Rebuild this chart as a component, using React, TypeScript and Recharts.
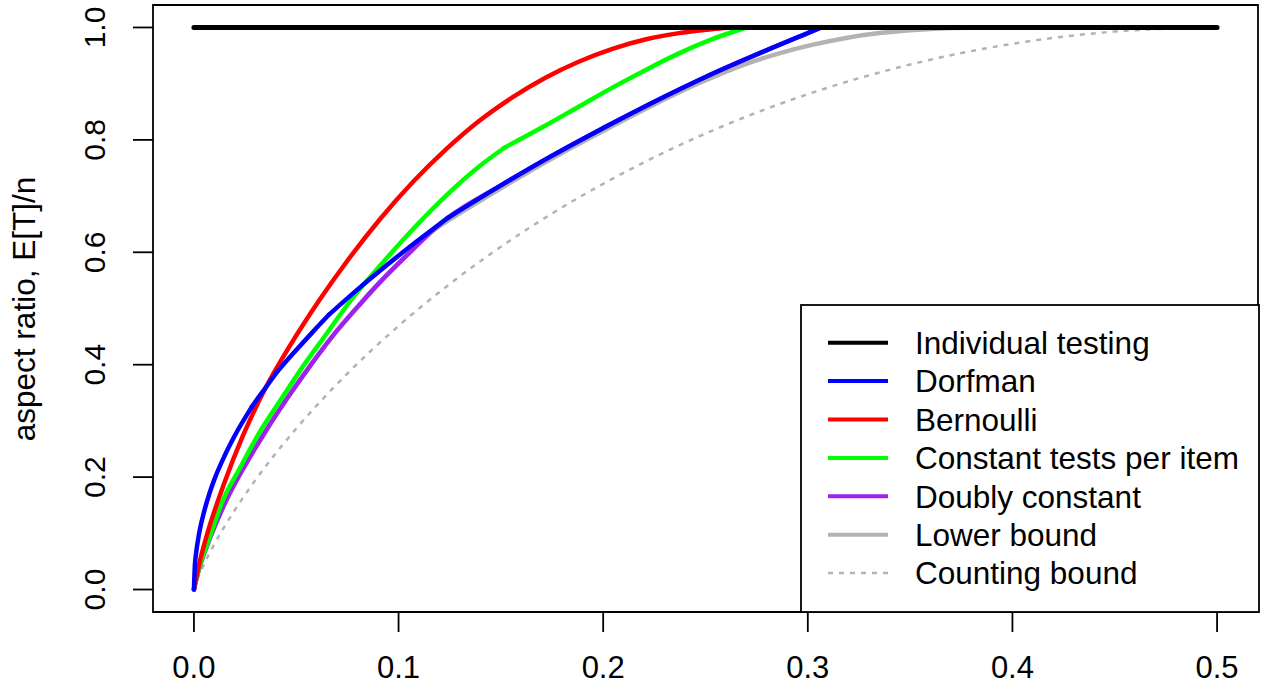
import React from 'react';
import { LineChart, Line, XAxis, YAxis, ReferenceArea, Legend } from 'recharts';

const FONT = '"Liberation Sans", Arial, Helvetica, sans-serif';

const xTicks = [0, 0.1, 0.2, 0.3, 0.4, 0.5];
const yTicks = [0, 0.2, 0.4, 0.6, 0.8, 1.0];
const yTitle = 'aspect ratio, E[T]/n';

// [p, E[T]/n] pairs
const individual = [[0, 1], [0.5, 1]];
const dorfman = [
  [0, 0], [0.0005, 0.045], [0.001, 0.063], [0.0025, 0.099], [0.005, 0.139], [0.0075, 0.17],
  [0.01, 0.196], [0.015, 0.238], [0.02, 0.274], [0.0283, 0.325], [0.03, 0.334], [0.035, 0.359],
  [0.041, 0.389], [0.05, 0.426], [0.058, 0.458], [0.066, 0.489], [0.08, 0.534], [0.1, 0.594],
  [0.112, 0.628], [0.124, 0.661], [0.15, 0.719], [0.175, 0.772], [0.2, 0.821], [0.225, 0.868],
  [0.25, 0.912], [0.275, 0.952], [0.3, 0.99], [0.3066, 1.0],
];
const dorfmanKinks = [0.0283, 0.041, 0.066, 0.124];
const bernoulli = [
  [0, 0], [0.003, 0.052], [0.007, 0.105], [0.0143, 0.184], [0.0241, 0.275], [0.0355, 0.362],
  [0.0468, 0.433], [0.0615, 0.516], [0.075, 0.585], [0.0907, 0.658], [0.107, 0.725],
  [0.1233, 0.7835], [0.1395, 0.834], [0.1558, 0.876], [0.172, 0.911], [0.188, 0.939],
  [0.2045, 0.962], [0.221, 0.979], [0.237, 0.99], [0.253, 0.997], [0.262, 1.0],
];
const constantTests = [
  [0, 0], [0.001, 0.017], [0.0025, 0.038], [0.008, 0.096], [0.0143, 0.16], [0.022, 0.213],
  [0.032, 0.279], [0.0425, 0.338], [0.0533, 0.397], [0.065, 0.456], [0.0769, 0.516],
  [0.0907, 0.575], [0.107, 0.641], [0.123, 0.7], [0.1395, 0.753], [0.1517, 0.786],
  [0.172, 0.826], [0.188, 0.859], [0.2045, 0.893], [0.221, 0.925], [0.237, 0.954],
  [0.253, 0.979], [0.27, 1.0],
];
const constantTestsKinks = [0.1517];
const doublyConstant = [
  [0, 0], [0.001, 0.0165], [0.0029, 0.0415], [0.008, 0.093], [0.016, 0.16], [0.025, 0.221],
  [0.0346, 0.279], [0.045, 0.337], [0.0566, 0.397], [0.07, 0.461], [0.0817, 0.51],
  [0.0907, 0.546], [0.105, 0.598], [0.1185, 0.645], [0.124, 0.661], [0.15, 0.719],
  [0.2, 0.821], [0.25, 0.912], [0.3066, 1.0],
];
const lowerBound = [
  [0, 0], [0.001, 0.0165], [0.0029, 0.0415], [0.008, 0.093], [0.016, 0.16], [0.025, 0.221],
  [0.0346, 0.279], [0.045, 0.337], [0.0566, 0.397], [0.07, 0.461], [0.0817, 0.51],
  [0.0907, 0.546], [0.105, 0.598], [0.1185, 0.643], [0.124, 0.656], [0.15, 0.714],
  [0.175, 0.767], [0.2, 0.816], [0.225, 0.863], [0.245, 0.898], [0.2696, 0.935],
  [0.286, 0.954], [0.302, 0.969], [0.318, 0.981], [0.335, 0.99], [0.354, 0.996],
  [0.37, 0.999], [0.382, 1.0],
];
const countingBound = [
  [0, 0], [0.001, 0.0114], [0.0025, 0.0252], [0.005, 0.0454], [0.01, 0.0808], [0.02, 0.1414],
  [0.03, 0.1944], [0.04, 0.2423], [0.05, 0.2864], [0.075, 0.3843], [0.1, 0.469],
  [0.125, 0.5436], [0.15, 0.6098], [0.175, 0.669], [0.2, 0.7219], [0.25, 0.8113],
  [0.3, 0.8813], [0.35, 0.9341], [0.4, 0.971], [0.45, 0.9928], [0.5, 1.0],
];

const legendNames = [
  'Individual testing', 'Dorfman', 'Bernoulli', 'Constant tests per item',
  'Doubly constant', 'Lower bound', 'Counting bound',
];
const legendColors = ['#000000', '#0000ff', '#ff0000', '#00ff00', '#a020f0', '#b3b3b3', '#b3b3b3'];

const toRows = (arr: number[][]) => arr.map(([p, v]) => ({ p, v }));

// split a curve at its kinks so each smooth piece is interpolated separately
const splitAt = (arr: number[][], kinks: number[]) => {
  const parts: number[][][] = [];
  let cur: number[][] = [];
  arr.forEach((pt) => {
    cur.push(pt);
    if (kinks.includes(pt[0])) {
      parts.push(cur);
      cur = [pt];
    }
  });
  if (cur.length > 1) parts.push(cur);
  return parts;
};

const XTick = (props: any) => {
  const { x, payload } = props;
  return (
    <text x={x} y={678} textAnchor="middle" fontSize={31} fontFamily={FONT} fill="#000">
      {Number(payload.value).toFixed(1)}
    </text>
  );
};

const YTick = (props: any) => {
  const { y, payload } = props;
  const bx = 105;
  return (
    <text x={bx} y={y} transform={`rotate(-90, ${bx}, ${y})`} textAnchor="middle" fontSize={30} fontFamily={FONT} fill="#000">
      {Number(payload.value).toFixed(1)}
    </text>
  );
};

const YTitle = () => (
  <text x={35} y={309} transform="rotate(-90, 35, 309)" textAnchor="middle" fontSize={31.5} fontFamily={FONT} fill="#000">
    {yTitle}
  </text>
);

const LegendBox = () => (
  <svg width={462} height={310} style={{ display: 'block' }}>
    <rect x={1} y={1} width={458} height={307} fill="#fff" stroke="#000" strokeWidth={1.8} />
    {legendNames.map((n, i) => {
      const cy = 38.7 + i * 38.4;
      return (
        <g key={n}>
          <line x1={28} x2={88} y1={cy} y2={cy} stroke={legendColors[i]} strokeWidth={i === 6 ? 2.5 : 4}
            strokeDasharray={i === 6 ? '5 6' : undefined} />
          <text x={115} y={cy + 11.3} fontSize={31.5} fontFamily={FONT} fill="#000">{n}</text>
        </g>
      );
    })}
  </svg>
);

const lineProps = {
  type: 'monotone' as const,
  dataKey: 'v',
  dot: false,
  activeDot: false,
  isAnimationActive: false,
  strokeLinecap: 'round' as const,
  strokeLinejoin: 'round' as const,
  legendType: 'none' as const,
};

export default function App() {
  const dorfmanParts = splitAt(dorfman, dorfmanKinks);
  const constantParts = splitAt(constantTests, constantTestsKinks);
  return (
    <div style={{ position: 'absolute', left: 0, top: 0, width: 1265, height: 685, background: '#fff', fontFamily: FONT }}>
      <LineChart width={1265} height={685} margin={{ top: 5, right: 7, bottom: 0, left: 0 }}>
        <XAxis
          type="number"
          dataKey="p"
          domain={[-0.02, 0.52]}
          ticks={xTicks}
          interval={0}
          allowDataOverflow
          height={73}
          tickSize={20}
          axisLine={false}
          tickLine={{ stroke: '#000', strokeWidth: 1.8 }}
          tick={<XTick />}
        />
        <YAxis
          type="number"
          domain={[-0.04, 1.04]}
          ticks={yTicks}
          interval={0}
          allowDataOverflow
          width={153}
          tickSize={20}
          axisLine={false}
          tickLine={{ stroke: '#000', strokeWidth: 1.8 }}
          tick={<YTick />}
          label={{ content: () => <YTitle /> }}
        />
        <ReferenceArea x1={-0.02} x2={0.52} y1={-0.04} y2={1.04} fill="none" fillOpacity={0} stroke="#000" strokeWidth={1.8} ifOverflow="visible" />
        <Line {...lineProps} data={toRows(countingBound)} stroke="#b3b3b3" strokeWidth={2.5} strokeDasharray="5 6" strokeLinecap="butt" />
        <Line {...lineProps} data={toRows(lowerBound)} stroke="#b3b3b3" strokeWidth={4.5} />
        <Line {...lineProps} data={toRows(doublyConstant)} stroke="#a020f0" strokeWidth={4.5} />
        {constantParts.map((part, i) => (
          <Line key={`c${i}`} {...lineProps} data={toRows(part)} stroke="#00ff00" strokeWidth={4.5} />
        ))}
        <Line {...lineProps} data={toRows(bernoulli)} stroke="#ff0000" strokeWidth={4.5} />
        {dorfmanParts.map((part, i) => (
          <Line key={`d${i}`} {...lineProps} data={toRows(part)} stroke="#0000ff" strokeWidth={4.5} />
        ))}
        <Line {...lineProps} data={toRows(individual)} stroke="#000000" strokeWidth={5} />
        <Legend
          layout="vertical"
          align="center"
          verticalAlign="middle"
          content={() => <LegendBox />}
          wrapperStyle={{ position: 'absolute', left: 800, top: 304, width: 462, height: 310 }}
        />
      </LineChart>
    </div>
  );
}
